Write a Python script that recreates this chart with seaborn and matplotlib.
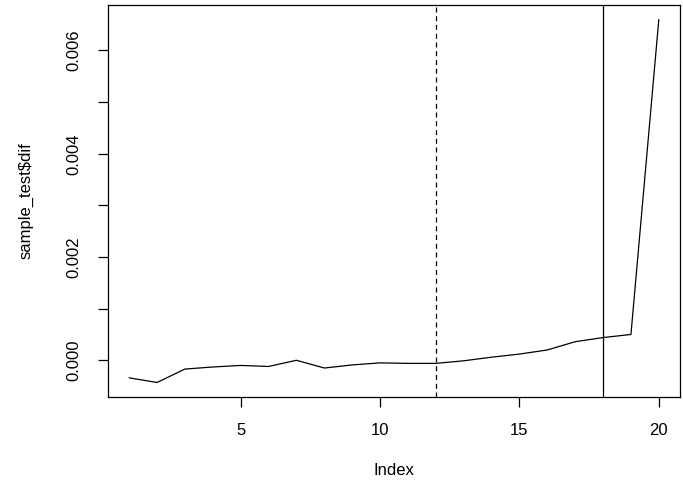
import matplotlib
matplotlib.use("Agg")
import matplotlib.pyplot as plt
import matplotlib.ticker as ticker
import numpy as np
import pandas as pd
import seaborn as sns

# values
index = list(range(1, 21))
dif = [-0.00034, -0.00043, -0.00017, -0.00013, -0.00010, -0.00012, 0.00000,
       -0.00015, -0.00009, -0.00005, -0.00006, -0.00006, -0.00001, 0.00006,
       0.00012, 0.00020, 0.00036, 0.00044, 0.00050, 0.00660]
dashed_at = 12
solid_at = 18

df = pd.DataFrame({"Index": index, "dif": dif})

sns.set_style("white")
plt.rcParams["font.family"] = ["Liberation Sans", "DejaVu Sans"]

fig = plt.figure(figsize=(6.83, 4.88), dpi=100)
ax = fig.add_axes([108 / 683, 91 / 488, 572 / 683, 392 / 488])

sns.lineplot(data=df, x="Index", y="dif", ax=ax, color="black", linewidth=0.9)

# reference lines
ax.axvline(dashed_at, color="black", linestyle=(0, (4, 3)), linewidth=0.9)
ax.axvline(solid_at, color="black", linewidth=0.9)

# R style 4% padding
xr = max(index) - min(index)
ax.set_xlim(min(index) - 0.04 * xr, max(index) + 0.04 * xr)
yr = max(dif) - min(dif)
ax.set_ylim(min(dif) - 0.04 * yr, max(dif) + 0.04 * yr)

ax.set_xticks([5, 10, 15, 20])
ax.yaxis.set_major_locator(ticker.MultipleLocator(0.001))
ax.yaxis.set_major_formatter(
    ticker.FuncFormatter(lambda v, _: f"{v:.3f}" if round(v * 1000) % 2 == 0 else "")
)
ax.tick_params(direction="out", length=7, width=0.9, colors="black",
               labelsize=12, pad=12, left=True, bottom=True)
for lab in ax.get_yticklabels():
    lab.set_rotation(90)
    lab.set_va("center")

for s in ax.spines.values():
    s.set_visible(True)
    s.set_color("black")
    s.set_linewidth(0.9)

ax.set_xlabel("Index", fontsize=12, labelpad=18, color="black")
ax.set_ylabel("sample_test$dif", fontsize=12, labelpad=24, color="black")

fig.savefig("out.png", dpi=100, facecolor="white")
